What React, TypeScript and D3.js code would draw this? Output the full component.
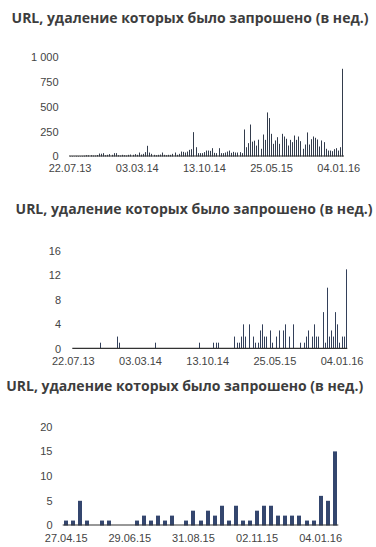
import React from 'react';
import * as d3 from 'd3';

const titleText = 'URL, удаление которых было запрошено (в нед.)';

// Chart 1: URLs per week since 22.07.13
const weeklyStart = '2013-07-22';
const urlsWeekly = [
  4, 5, 3, 6, 5, 4, 6, 8,
  13, 12, 13, 10, 10, 15,
  30, 28, 34,
  13, 17, 24, 17, 34, 34,
  13, 10, 17, 13, 10, 17, 20, 17, 24, 17,
  40, 20, 27, 44, 108,
  40, 27, 17, 13, 17, 20, 40, 17, 13, 17, 17, 27, 40, 17, 27, 50, 47, 40, 50, 67, 74,
  246,
  94,
  34, 34, 34, 44,
  60, 60, 57, 84, 37, 34, 84, 34, 34, 40, 50, 60, 37, 47, 40, 40, 44, 34,
  273, 94, 135, 323, 150, 160, 110, 170, 78, 222, 168, 445, 388, 229, 128, 162,
  195, 128, 229, 202, 179, 111, 168, 145, 212, 168, 202, 155, 78, 121, 243, 121,
  175, 202, 189, 172, 101, 162, 145, 78, 60, 60, 54, 74, 84, 60, 94, 886,
];
const xTickLabels1 = ['22.07.13', '03.03.14', '13.10.14', '25.05.15', '04.01.16'];
const yTicks1 = [0, 250, 500, 750, 1000];

// Chart 2: same period, small counts
const countsWeekly = [
  0, 0, 0, 0, 0, 0, 0, 0, 0, 0, 0, 0, 0, 1, 0, 0, 0, 0, 0, 0,
  0, 2, 1, 0, 0, 0, 0, 0, 0, 0, 0, 0, 0, 0, 0, 0, 0, 0, 0, 1,
  0, 0, 0, 0, 0, 0, 0, 0, 0, 0, 0, 0, 0, 0, 0, 0, 0, 0, 0, 0,
  1, 0, 0, 0, 0, 0, 0, 1, 1, 1, 0, 0, 0, 0, 0, 0, 0, 2, 1, 1,
  2, 4, 2, 0, 4, 0, 2, 1, 1, 3, 4, 2, 2, 0, 3, 1, 0, 2, 3, 0,
  3, 4, 0, 2, 0, 4, 0, 0, 1, 0, 1, 2, 3, 0, 2, 4, 2, 2, 0, 6,
  1, 10, 2, 3, 2, 6, 4, 1, 2, 2, 13,
];
const yTicks2 = [0, 4, 8, 12, 16];

// Chart 3: since 27.04.15
const recentStart = '2015-04-27';
const recentWeekly = [
  1, 1, 5, 1, 0, 1, 1, 0, 0, 0, 1, 2, 1, 2, 1, 2, 0, 1, 3, 1,
  3, 2, 4, 1, 4, 1, 1, 3, 4, 4, 2, 2, 2, 2, 1, 1, 6, 5, 15,
];
const xTickLabels3 = ['27.04.15', '29.06.15', '31.08.15', '02.11.15', '04.01.16'];
const yTicks3 = [0, 5, 10, 15, 20];

const parse = d3.timeParse('%Y-%m-%d');
const fmtDate = d3.timeFormat('%d.%m.%y');
const ruLocale = d3.formatLocale({ decimal: ',', thousands: '\u00a0', grouping: [3], currency: ['', ''] });
const fmtNum = ruLocale.format(',');

type ChartProps = {
  titleCx: number;
  titleY: number;
  start: string;
  values: number[];
  xLabels: string[];
  yTicks: number[];
  x0: number;
  x1: number;
  y0: number;
  yTopPx: number;
  barW: number;
  crisp: boolean;
  color: string;
  yLabelX: number;
  xLabelY: number;
};

function Chart(p: ChartProps) {
  const startDate = parse(p.start) as Date;
  const dates = p.values.map((_, i) => fmtDate(d3.timeDay.offset(startDate, 7 * i)));
  const x = d3.scaleBand<string>().domain(dates).range([p.x0, p.x1]);
  const yMax = p.yTicks[p.yTicks.length - 1];
  const y = d3.scaleLinear().domain([0, yMax]).range([p.y0, p.yTopPx]);
  const bw = x.bandwidth();
  return (
    <g>
      <text
        x={p.titleCx}
        y={p.titleY}
        textAnchor="middle"
        fontFamily="'Open Sans', sans-serif"
        fontWeight="bold"
        fontSize={14}
        fill="#3d3d3d"
      >
        {titleText}
      </text>
      {p.yTicks.map((t) => (
        <text
          key={'y' + t}
          x={p.yLabelX}
          y={y(t)}
          dy="0.35em"
          textAnchor="end"
          fontFamily="'Liberation Sans', Arial, sans-serif"
          fontSize={11}
          fill="#444"
        >
          {fmtNum(t)}
        </text>
      ))}
      {p.values.map((v, i) => {
        const cx = (x(dates[i]) as number) + bw / 2;
        const left = p.crisp ? Math.round(cx - p.barW / 2) : cx - p.barW / 2;
        const top = y(v);
        return v > 0 ? (
          <rect key={'b' + i} x={left} y={top} width={p.barW} height={p.y0 - top} fill={p.color} />
        ) : null;
      })}
      <line x1={p.x0} x2={p.x1} y1={p.y0 - 0.5} y2={p.y0 - 0.5} stroke="#333" strokeWidth={1.2} />
      {p.xLabels.map((lab) => {
        const cx = (x(lab) as number) + bw / 2;
        return (
          <text
            key={'x' + lab}
            x={cx}
            y={p.xLabelY}
            dy="0.35em"
            textAnchor="middle"
            fontFamily="'Liberation Sans', Arial, sans-serif"
            fontSize={11}
            fill="#444"
          >
            {lab}
          </text>
        );
      })}
    </g>
  );
}

export default function App() {
  return (
    <svg
      width={376}
      height={547}
      style={{ position: 'absolute', left: 0, top: 0, background: '#fff' }}
    >
      <rect width={376} height={547} fill="#fff" />
      <Chart
        titleCx={190}
        titleY={22.7}
        start={weeklyStart}
        values={urlsWeekly}
        xLabels={xTickLabels1}
        yTicks={yTicks1}
        x0={69}
        x1={344}
        y0={156.5}
        yTopPx={57.5}
        barW={1}
        crisp={true}
        color="#333c4c"
        yLabelX={58.5}
        xLabelY={168.5}
      />
      <Chart
        titleCx={194}
        titleY={213.5}
        start={weeklyStart}
        values={countsWeekly}
        xLabels={xTickLabels1}
        yTicks={yTicks2}
        x0={72.3}
        x1={347.3}
        y0={348.8}
        yTopPx={251}
        barW={1}
        crisp={true}
        color="#33405a"
        yLabelX={61}
        xLabelY={361}
      />
      <Chart
        titleCx={184.7}
        titleY={391}
        start={recentStart}
        values={recentWeekly}
        xLabels={xTickLabels3}
        yTicks={yTicks3}
        x0={62.7}
        x1={338.3}
        y0={525.5}
        yTopPx={426.7}
        barW={4}
        crisp={true}
        color="#34466e"
        yLabelX={52.5}
        xLabelY={538}
      />
    </svg>
  );
}
